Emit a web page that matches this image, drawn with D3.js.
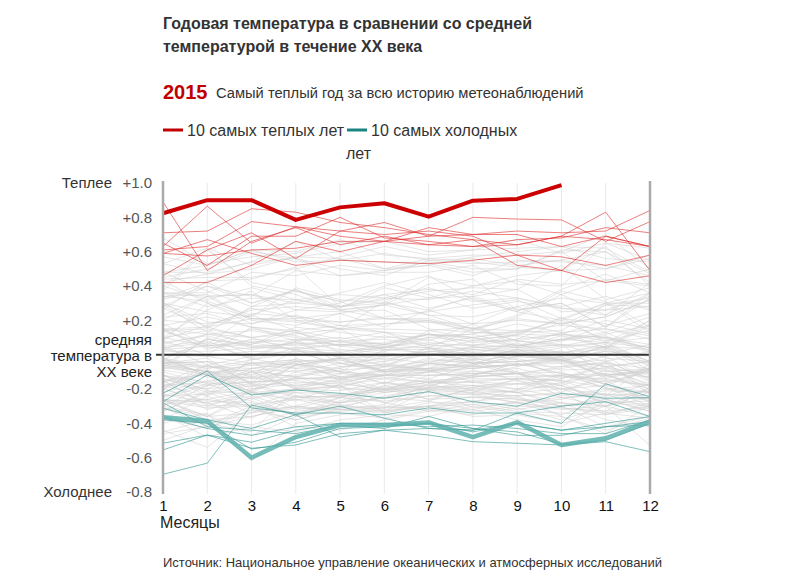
<!DOCTYPE html>
<html><head><meta charset="utf-8">
<script src="https://cdn.jsdelivr.net/npm/d3@7"></script>
<style>
html,body{margin:0;padding:0;background:#fff;}
svg{display:block;font-family:"Liberation Sans",Arial,sans-serif;}
</style></head>
<body><svg id="c" width="809" height="580"></svg>
<script>
const months = [1,2,3,4,5,6,7,8,9,10,11,12];
const yTicks = [1.0,0.8,0.6,0.4,0.2,-0.2,-0.4,-0.6,-0.8];
const zeroLabel = ["средняя","температура в","XX веке"];

const year2015 = [0.824,0.90,0.90,0.785,0.858,0.882,0.804,0.897,0.907,0.988];
const coldest = [-0.365,-0.386,-0.60,-0.48,-0.41,-0.41,-0.395,-0.48,-0.394,-0.526,-0.487,-0.39];

const warmYears = [
 [0.89,0.49,0.66,0.74,0.64,0.69,0.64,0.63,0.67,0.68,0.74,0.71],
 [0.71,0.72,0.85,0.83,0.77,0.74,0.70,0.67,0.64,0.69,0.83,0.49],
 [0.63,0.865,0.65,0.745,0.72,0.70,0.72,0.69,0.58,0.57,0.52,0.58],
 [0.61,0.63,0.775,0.745,0.69,0.66,0.69,0.80,0.79,0.785,0.66,0.775],
 [0.59,0.575,0.61,0.62,0.66,0.66,0.74,0.70,0.72,0.71,0.72,0.84],
 [0.59,0.67,0.59,0.52,0.55,0.54,0.53,0.55,0.58,0.49,0.42,0.46],
 [0.46,0.61,0.71,0.56,0.72,0.77,0.69,0.70,0.70,0.63,0.69,0.63],
 [0.42,0.42,0.52,0.66,0.60,0.66,0.64,0.67,0.52,0.49,0.69,0.63],
 [0.65,0.52,0.69,0.69,0.80,0.68,0.66,0.63,0.64,0.69,0.67,0.63]
];

const coldYears = [
 [-0.225,-0.095,-0.31,-0.34,-0.34,-0.35,-0.31,-0.34,-0.34,-0.40,-0.17,-0.245],
 [-0.274,-0.118,-0.235,-0.206,-0.225,-0.254,-0.215,-0.274,-0.30,-0.225,-0.254,-0.25],
 [-0.312,-0.38,-0.43,-0.35,-0.30,-0.37,-0.43,-0.44,-0.34,-0.30,-0.274,-0.36],
 [-0.516,-0.468,-0.51,-0.44,-0.40,-0.41,-0.40,-0.45,-0.40,-0.44,-0.42,-0.41],
 [-0.555,-0.468,-0.545,-0.526,-0.46,-0.44,-0.468,-0.507,-0.516,-0.526,-0.507,-0.565],
 [-0.697,-0.632,-0.293,-0.35,-0.48,-0.44,-0.43,-0.44,-0.40,-0.44,-0.40,-0.36],
 [-0.38,-0.40,-0.55,-0.51,-0.43,-0.42,-0.40,-0.43,-0.45,-0.52,-0.50,-0.40],
 [-0.36,-0.43,-0.47,-0.42,-0.40,-0.40,-0.42,-0.41,-0.43,-0.46,-0.46,-0.38],
 [-0.28,-0.42,-0.44,-0.46,-0.41,-0.43,-0.36,-0.43,-0.47,-0.47,-0.42,-0.39]
];

const otherYears = [
 [-.12,-.18,-.10,-.20,-.14,-.22,-.19,-.09,-.15,-.24,-.20,-.22],
 [-.22,-.15,-.13,-.12,-.08,-.17,-.05,-.03,-.10,-.25,-.24,-.05],
 [-.05,-.02,-.18,-.25,-.24,-.33,-.21,-.22,-.24,-.22,-.35,-.28],
 [-.26,-.36,-.21,-.31,-.32,-.33,-.30,-.24,-.28,-.26,-.21,-.22],
 [-.50,-.41,-.32,-.38,-.31,-.30,-.32,-.27,-.25,-.30,-.42,-.36],
 [-.44,-.54,-.33,-.30,-.32,-.31,-.19,-.21,-.26,-.28,-.33,-.19],
 [-.38,-.40,-.45,-.20,-.18,-.34,-.28,-.28,-.20,-.25,-.30,-.19],
 [-.31,-.41,-.30,-.42,-.44,-.38,-.33,-.32,-.38,-.42,-.27,-.29],
 [-.26,-.38,-.36,-.31,-.25,-.19,-.16,-.12,-.05,-.11,-.15,-.28],
 [-.30,-.35,-.47,-.36,-.27,-.18,-.26,-.20,-.22,-.16,-.30,-.36],
 [-.15,-.30,-.29,-.26,-.32,-.29,-.17,-.23,-.24,-.36,-.46,-.29],
 [-.38,-.24,-.34,-.30,-.23,-.28,-.33,-.29,-.28,-.35,-.26,-.33],
 [-.33,-.21,-.27,-.35,-.25,-.16,-.20,-.31,-.28,-.32,-.30,-.22],
 [-.26,-.28,-.37,-.25,-.24,-.21,-.16,-.18,-.20,-.18,-.26,-.25],
 [-.27,-.26,-.21,-.13,-.20,-.20,-.14,-.21,-.22,-.28,-.30,-.25],
 [-.10,-.17,-.16,-.15,-.19,-.12,-.14,-.06,-.01,-.03,-.12,-.10],
 [-.06,-.12,-.08,-.05,-.10,-.17,-.10,-.05,-.04,-.02,-.07,-.12],
 [-.31,-.36,-.34,-.24,-.30,-.25,-.27,-.19,-.15,-.20,-.28,-.30],
 [-.16,-.06,-.13,-.19,-.11,-.13,-.16,-.16,-.17,-.20,-.15,-.18],
 [-.15,-.29,-.24,-.32,-.29,-.33,-.30,-.29,-.33,-.34,-.35,-.31],
 [-.24,-.17,-.26,-.20,-.21,-.16,-.21,-.19,-.22,-.20,-.23,-.24],
 [-.18,-.11,-.17,-.24,-.28,-.25,-.22,-.23,-.28,-.31,-.34,-.37],
 [-.27,-.36,-.25,-.36,-.33,-.31,-.27,-.32,-.27,-.25,-.23,-.31],
 [-.19,-.32,-.25,-.21,-.18,-.28,-.24,-.23,-.21,-.12,-.17,-.26],
 [-.37,-.43,-.32,-.24,-.25,-.27,-.24,-.25,-.26,-.30,-.25,-.21],
 [-.29,-.26,-.30,-.34,-.31,-.24,-.20,-.22,-.14,-.15,-.24,-.17],
 [-.20,-.27,-.28,-.35,-.28,-.25,-.19,-.18,-.22,-.30,-.26,-.33],
 [-.45,-.38,-.41,-.33,-.30,-.31,-.30,-.27,-.32,-.28,-.38,-.42],
 [-.33,-.22,-.31,-.38,-.32,-.34,-.30,-.36,-.35,-.40,-.34,-.30],
 [-.14,-.22,-.18,-.16,-.17,-.20,-.18,-.13,-.11,-.22,-.12,-.08],
 [-.18,-.24,-.10,-.20,-.25,-.18,-.15,-.14,-.14,-.12,-.19,-.27],
 [-.03,-.12,-.23,-.20,-.19,-.22,-.17,-.13,-.11,-.07,-.05,-.08],
 [-.12,-.21,-.23,-.22,-.23,-.20,-.20,-.18,-.17,-.17,-.04,-.23],
 [-.26,-.30,-.22,-.20,-.24,-.21,-.18,-.20,-.17,-.14,-.05,-.21],
 [-.25,-.18,-.04,-.19,-.16,-.21,-.12,-.11,-.11,-.13,-.14,-.08],
 [-.08,-.04,-.17,-.18,-.15,-.12,-.05,-.07,-.06,-.03,-.07,-.04],
 [-.06,-.10,-.09,-.13,-.16,-.12,-.10,-.08,-.06,-.07,-.01,-.15],
 [-.24,-.23,-.20,-.14,-.13,-.20,-.16,-.16,-.20,-.11,-.16,-.10],
 [-.27,-.31,-.30,-.22,-.28,-.20,-.26,-.25,-.24,-.23,-.23,-.26],
 [-.12,-.24,-.02,-.08,-.10,-.12,-.10,-.03,-.01,.02,-.07,-.04],
 [-.02,-.07,-.08,-.10,-.05,-.09,-.03,-.05,-.04,-.01,.04,-.05],
 [-.05,-.04,-.06,-.08,-.02,-.10,-.05,-.07,-.02,-.09,-.08,-.11],
 [-.23,-.28,-.22,-.26,-.28,-.22,-.20,-.15,-.14,-.18,-.28,-.27],
 [-.30,-.18,-.16,-.14,-.13,-.14,-.10,-.13,-.11,-.10,-.20,-.18],
 [-.20,-.10,-.16,-.14,-.14,-.10,-.08,-.04,-.11,-.18,-.09,-.17],
 [-.15,-.11,-.22,-.27,-.17,-.11,-.09,-.06,-.01,-.03,-.09,-.13],
 [.03,-.01,-.05,-.06,-.08,-.01,.02,.04,.05,.09,.13,.02],
 [-.08,.10,.00,.02,.01,-.03,.02,.00,.02,.05,.07,.10],
 [.06,.12,.07,.03,.06,.04,.12,.07,.09,.12,.10,.01],
 [.10,.14,.05,.06,.08,.09,.05,.06,.04,.11,.04,.20],
 [.15,.12,.14,.10,.05,.11,.06,.10,.13,.20,.13,.22],
 [.18,.05,.15,.11,.05,.07,.12,.05,.09,.19,.09,.04],
 [.17,.22,.16,.14,.17,.13,.12,.09,.11,.08,.17,.24],
 [-.05,-.10,-.12,.03,-.07,-.04,.04,-.02,.03,.06,-.12,-.18],
 [.05,-.06,-.01,.09,-.05,-.10,-.06,-.06,-.11,-.08,-.04,-.14],
 [-.02,-.12,-.19,-.06,-.03,-.10,-.08,.01,-.03,-.13,-.12,-.20],
 [-.20,-.06,-.16,-.02,-.10,-.12,-.12,-.12,-.07,-.01,-.14,-.18],
 [-.14,-.20,-.17,-.06,-.02,-.04,.00,-.01,.02,.02,-.04,.02],
 [-.12,-.16,-.21,-.06,-.02,-.06,.02,.01,.00,-.03,.05,-.07],
 [.15,.03,.09,.07,.06,.05,.00,.05,.01,.01,.03,.17],
 [.08,.00,.16,.13,.07,.06,.12,.10,.05,.09,.07,.04],
 [-.06,-.10,-.14,-.13,-.09,-.07,.01,-.05,-.04,-.03,-.13,-.09],
 [-.08,-.09,-.22,-.10,-.14,-.09,-.05,-.08,-.05,-.11,-.17,-.08],
 [-.09,-.13,-.13,-.06,-.13,-.12,-.12,-.11,-.11,-.16,-.11,-.13],
 [-.03,.09,.05,.03,.00,.05,.07,.05,.12,.11,.10,.04],
 [.02,.02,.04,.07,.03,.01,-.01,.04,.06,.01,.00,.06],
 [.07,.11,.04,.04,.06,.04,.09,.01,.00,.04,.07,-.04],
 [.05,.08,-.03,.01,.01,.06,.04,.02,.03,.01,.05,-.04],
 [-.03,-.08,-.03,.04,.02,.04,.04,-.05,.01,.01,.06,-.04],
 [.04,.07,.03,.07,-.02,-.01,.00,-.03,.03,-.04,.02,-.11],
 [-.04,-.07,-.10,-.05,-.13,-.09,-.02,-.05,.01,-.05,-.03,-.16],
 [-.19,-.09,-.20,-.17,-.18,-.14,-.16,-.12,-.13,-.12,-.11,-.22],
 [-.02,-.12,-.14,-.09,-.11,-.05,-.09,-.11,-.08,-.14,-.07,-.18],
 [-.18,-.16,-.10,-.13,-.07,-.06,-.09,-.08,-.06,-.03,-.10,-.08],
 [-.05,-.08,-.05,-.03,-.05,-.07,-.04,-.02,-.06,-.04,-.12,-.09],
 [-.17,-.20,-.08,-.04,-.10,.03,.01,-.01,.01,-.02,.05,.03],
 [-.06,.09,.06,.13,.05,.02,.06,.03,.01,-.03,.02,-.01],
 [.00,-.01,.02,.01,-.05,-.02,-.05,.03,.04,.06,-.02,-.04],
 [-.07,-.12,-.05,-.03,-.15,-.07,-.08,-.07,-.06,-.05,-.18,-.09],
 [-.16,-.11,-.06,-.04,-.02,-.10,-.09,-.16,-.14,-.15,-.19,-.30],
 [.03,.05,.07,.09,.08,.03,.03,.08,.08,.06,.04,-.09],
 [-.05,-.04,-.12,-.04,-.03,-.09,-.08,-.10,-.10,-.20,-.18,-.22],
 [.10,.05,.08,.05,.08,.06,.10,.12,.05,.09,.11,.02],
 [.14,.15,.10,.14,.01,-.07,.04,.00,.07,-.04,.03,-.06],
 [.20,.18,.23,.14,.09,.13,.04,.15,.14,.17,.29,.33],
 [.15,.16,.21,.20,.15,.13,.08,.18,.20,.18,.22,.32],
 [.43,.30,.18,.26,.25,.26,.15,.13,.11,.22,.07,.20],
 [.40,.32,.39,.32,.28,.30,.26,.34,.26,.30,.16,.33],
 [.10,.26,.37,.20,.19,.22,.25,.29,.32,.21,.30,.13],
 [.30,.19,.18,.23,.17,.18,.19,.14,.22,.35,.23,.42],
 [.09,.17,.26,.28,.26,.21,.20,.13,.13,.14,.29,.28],
 [.32,.40,.30,.37,.31,.21,.21,.15,.23,.37,.31,.16],
 [.14,.06,.24,.22,.15,.31,.23,.15,.21,.18,.22,.32],
 [.34,.31,.23,.32,.35,.33,.39,.31,.33,.28,.34,.26],
 [.36,.34,.35,.26,.30,.40,.46,.32,.25,.20,.30,.30],
 [.34,.35,.21,.19,.15,.15,.14,.10,.04,.08,.12,.17],
 [.27,.16,.27,.22,.19,.21,.19,.18,.05,.13,.04,.18],
 [.29,.13,.28,.38,.26,.29,.23,.22,.28,.33,.30,.36],
 [.39,.62,.40,.35,.26,.29,.41,.44,.26,.30,.16,.36],
 [.20,.34,.20,.17,.24,.29,.33,.40,.46,.49,.50,.58],
 [.36,.28,.33,.32,.27,.39,.33,.34,.38,.25,.26,.34],
 [.23,.34,.35,.30,.28,.32,.37,.39,.38,.52,.32,.39],
 [.48,.37,.28,.30,.36,.42,.35,.27,.31,.27,.23,.36],
 [.33,.42,.30,.38,.28,.35,.27,.33,.25,.38,.47,.36],
 [.08,.30,.21,.21,.24,.16,.26,.18,.28,.17,.15,.11],
 [.37,.61,.42,.37,.31,.35,.38,.35,.44,.41,.43,.40],
 [.26,.43,.44,.51,.28,.33,.32,.37,.33,.27,.26,.28],
 [.45,.50,.60,.56,.46,.48,.48,.52,.41,.40,.65,.55],
 [.48,.52,.61,.54,.55,.54,.53,.48,.50,.60,.43,.50],
 [.53,.62,.52,.57,.60,.50,.56,.58,.58,.60,.70,.50],
 [.68,.53,.57,.59,.65,.66,.60,.61,.67,.59,.65,.62],
 [.28,.40,.34,.49,.46,.49,.54,.50,.50,.61,.60,.47],
 [.36,.36,.48,.46,.52,.49,.52,.57,.60,.63,.56,.54],
 [.57,.52,.61,.60,.67,.58,.56,.54,.51,.49,.63,.40],
 [.48,.48,.54,.66,.55,.59,.55,.53,.54,.55,.50,.56],
 [.44,.45,.45,.50,.57,.63,.58,.61,.62,.63,.62,.48],
 [.42,.47,.54,.56,.50,.46,.55,.56,.52,.55,.60,.42],
 [.30,.25,.22,.39,.32,.30,.45,.40,.43,.35,.44,.41],
 [.53,.47,.50,.57,.56,.50,.52,.46,.55,.54,.52,.46],
 [.14,.04,.06,.16,.13,.10,.11,.12,.18,.13,.15,.09],
 [.03,.12,.10,.02,-.01,.04,.10,.08,.12,.21,.18,.12],
 [.22,.24,.16,.08,.10,.06,.12,.10,.14,.12,.08,.14],
 [.30,.16,.10,.12,.15,.18,.20,.15,.08,.05,.10,.06],
 [-.01,.06,-.02,.08,.15,.02,.14,.16,.08,.12,.20,.15],
 [-.40,-.34,-.62,-.40,-.35,-.32,-.30,-.33,-.30,-.31,-.33,-.30],
 [-.35,-.48,-.42,-.45,-.38,-.35,-.36,-.30,-.34,-.36,-.44,-.37],
 [-.46,-.42,-.36,-.30,-.34,-.37,-.32,-.35,-.31,-.38,-.30,-.53]
];

const svg = d3.select("#c");
const x = d3.scaleLinear().domain([1,12]).range([163,650]);
const y = d3.scaleLinear().domain([-0.8,1.0]).range([492,183]);
const line = d3.line().x((d,i)=>x(months[i])).y(d=>y(d));

// Titles
svg.append("text").attr("x",163).attr("y",29).attr("font-size",16).attr("font-weight","bold").attr("fill","#333").text("Годовая температура в сравнении со средней");
svg.append("text").attr("x",163).attr("y",52).attr("font-size",16).attr("font-weight","bold").attr("fill","#333").text("температурой в течение XX века");
svg.append("text").attr("x",163).attr("y",99).attr("font-size",20).attr("font-weight","bold").attr("fill","#c00000").text("2015");
svg.append("text").attr("x",216).attr("y",98).attr("font-size",14.7).attr("fill","#333").text("Самый теплый год за всю историю метеонаблюдений");

// Legend
svg.append("line").attr("x1",163).attr("x2",183).attr("y1",130).attr("y2",130).attr("stroke","#c00000").attr("stroke-width",3);
svg.append("text").attr("x",187).attr("y",136).attr("font-size",16).attr("fill","#333").text("10 самых теплых лет");
svg.append("line").attr("x1",347).attr("x2",367).attr("y1",130).attr("y2",130).attr("stroke","#1a8580").attr("stroke-width",3);
svg.append("text").attr("x",371).attr("y",136).attr("font-size",16).attr("fill","#333").text("10 самых холодных");
svg.append("text").attr("x",346).attr("y",159).attr("font-size",16).attr("fill","#333").text("лет");

// Vertical gridlines
svg.append("g").selectAll("line").data(months.slice(1,11)).join("line")
  .attr("x1",d=>x(d)).attr("x2",d=>x(d)).attr("y1",y(1.0)).attr("y2",y(-0.8)+2)
  .attr("stroke","#eaeaea").attr("stroke-width",1);

// Lines
const plot = svg.append("g");
plot.selectAll("path.g").data(otherYears).join("path").attr("class","g")
  .attr("d",line).attr("fill","none").attr("stroke","#cfcfcf").attr("stroke-opacity",0.55).attr("stroke-width",1);
plot.selectAll("path.w").data(warmYears).join("path").attr("class","w")
  .attr("d",line).attr("fill","none").attr("stroke","#dd2a2a").attr("stroke-opacity",0.6).attr("stroke-width",1);
plot.selectAll("path.c").data(coldYears).join("path").attr("class","c")
  .attr("d",line).attr("fill","none").attr("stroke","#2b948f").attr("stroke-opacity",0.6).attr("stroke-width",1);

// Zero line
svg.append("line").attr("x1",156).attr("x2",x(12)).attr("y1",y(0)).attr("y2",y(0)).attr("stroke","#333").attr("stroke-width",2);

plot.append("path").datum(coldest).attr("d",line).attr("fill","none").attr("stroke","#5eb0ad").attr("stroke-opacity",0.85).attr("stroke-width",4.5).attr("stroke-linejoin","round");
plot.append("path").datum(year2015).attr("d",line).attr("fill","none").attr("stroke","#cc0000").attr("stroke-width",4).attr("stroke-linejoin","round");

// Side frame lines
svg.append("g").selectAll("line").data([1,12]).join("line")
  .attr("x1",d=>x(d)).attr("x2",d=>x(d)).attr("y1",y(1.0)-2).attr("y2",y(-0.8)+2)
  .attr("stroke","#aaa").attr("stroke-width",2.5);

// Y axis
const yAxis = d3.axisLeft(y).tickValues(yTicks).tickSize(0).tickPadding(11)
  .tickFormat(d=>(d>0?"+":"")+d.toFixed(1));
const gy = svg.append("g").attr("transform",`translate(${x(1)},0)`).call(yAxis);
gy.select(".domain").remove();
gy.selectAll("text").attr("font-size",15).attr("fill","#555").attr("font-family","'Liberation Sans',Arial,sans-serif");

svg.append("text").attr("x",112).attr("y",y(1.0)+5).attr("text-anchor","end").attr("font-size",15).attr("fill","#333").text("Теплее");
svg.append("text").attr("x",112).attr("y",y(-0.8)+5).attr("text-anchor","end").attr("font-size",15).attr("fill","#333").text("Холоднее");

svg.append("g").selectAll("text").data(zeroLabel).join("text")
  .attr("x",152).attr("y",(d,i)=>y(0)-10+i*16).attr("text-anchor","end")
  .attr("font-size",15).attr("fill","#222").text(d=>d);

// X axis
const xAxis = d3.axisBottom(x).tickValues(months).tickSize(0).tickPadding(8).tickFormat(d3.format("d"));
const gx = svg.append("g").attr("transform",`translate(0,${y(-0.8)})`).call(xAxis);
gx.select(".domain").remove();
gx.selectAll("text").attr("font-size",15).attr("fill","#111").attr("font-family","'Liberation Sans',Arial,sans-serif");

svg.append("text").attr("x",160).attr("y",528).attr("font-size",16).attr("fill","#222").text("Месяцы");
svg.append("text").attr("x",163).attr("y",567).attr("font-size",13).attr("fill","#333").text("Источник: Национальное управление океанических и атмосферных исследований");
</script></body></html>
